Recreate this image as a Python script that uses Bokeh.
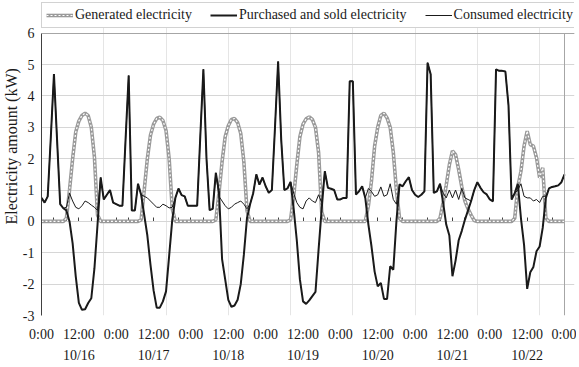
from bokeh.plotting import figure
from bokeh.models import (ColumnDataSource, FixedTicker, Range1d, LinearAxis,
                          Legend, LegendItem, Grid, Title)
from bokeh.embed import file_html
from bokeh.resources import INLINE

# ---------------- data (hourly, 10/16 0:00 .. 10/23 0:00) ----------------
gen_d1 = [0, 0, 0, 0, 0, 0, 0, 0, 0.1, 1.0, 2.0, 2.85, 3.2, 3.38, 3.45, 3.37, 3.0, 2.05, 0.2, 0, 0, 0, 0, 0]
gen_d2 = [0, 0, 0, 0, 0, 0, 0, 0, 0.05, 1.0, 2.0, 2.75, 3.1, 3.28, 3.32, 3.22, 2.9, 2.0, 0.4, 0, 0, 0, 0, 0]
gen_d3 = [0, 0, 0, 0, 0, 0, 0, 0, 0.05, 0.9, 1.9, 2.7, 3.05, 3.25, 3.28, 3.15, 2.8, 1.9, 0.35, 0, 0, 0, 0, 0]
gen_d4 = [0, 0, 0, 0, 0, 0, 0, 0, 0.05, 0.8, 1.8, 2.7, 3.1, 3.27, 3.33, 3.25, 3.0, 2.2, 0.3, 0, 0, 0, 0, 0]
gen_d5 = [0, 0, 0, 0, 0, 0, 0, 0, 0, 0.5, 1.3, 2.4, 3.0, 3.38, 3.45, 3.3, 3.0, 2.2, 1.0, 0.1, 0, 0, 0, 0]
gen_d6 = [0, 0, 0, 0, 0, 0, 0, 0, 0.1, 0.6, 1.15, 1.8, 2.25, 2.13, 1.65, 1.1, 0.65, 0.4, 0.2, 0.03, 0, 0, 0, 0]
gen_d7 = [0, 0, 0, 0, 0, 0, 0, 0, 0.1, 1.1, 1.6, 2.4, 2.88, 2.45, 2.4, 2.03, 1.39, 1.71, 0.1, 0, 0, 0, 0, 0]
gen_end = [0]

pur_d1 = [0.75, 0.6, 0.8, 2.7, 4.7, 2.6, 0.55, 0.42, 0.35, 0.0, -0.7, -1.75, -2.6, -2.82, -2.8, -2.6, -2.45, -1.5, -0.1, 1.4, 0.7, 0.85, 1.0, 0.6]
pur_d2 = [0.55, 0.5, 0.5, 2.6, 4.65, 0.35, 0.35, 1.2, 0.85, 0.2, -0.45, -1.38, -2.2, -2.75, -2.75, -2.55, -2.23, -1.1, 0.05, 0.75, 1.05, 0.84, 0.8, 0.5]
pur_d3 = [0.5, 0.5, 0.5, 2.7, 4.85, 2.0, 0.36, 0.4, 1.55, 0.95, -1.2, -1.85, -2.5, -2.72, -2.68, -2.5, -2.0, -1.06, 0.1, 0.55, 0.9, 1.5, 1.17, 1.4]
pur_d4 = [1.12, 0.91, 1.0, 3.0, 5.1, 2.6, 1.0, 1.05, 1.26, 0.4, -0.6, -1.85, -2.55, -2.63, -2.52, -2.38, -2.25, -0.9, 0.4, 1.6, 1.07, 1.04, 1.0, 0.7]
pur_d5 = [0.7, 0.75, 0.75, 4.47, 4.47, 0.86, 0.96, 1.12, 0.75, -0.1, -0.8, -1.6, -2.07, -1.96, -2.47, -2.47, -1.43, -1.54, 0.0, 1.18, 1.12, 1.28, 1.41, 1.0]
pur_d6 = [0.85, 0.78, 0.85, 0.96, 5.06, 4.69, 0.91, 0.96, 1.2, 0.6, -0.1, -0.45, -1.75, -1.25, -0.6, -0.3, 0.05, 0.35, 0.65, 1.0, 1.25, 1.07, 0.93, 0.86]
pur_d7 = [0.7, 0.64, 4.85, 4.8, 4.8, 4.78, 3.7, 0.7, 0.9, 1.2, 0.1, -0.75, -2.15, -1.62, -1.45, -0.95, -0.8, -0.2, 0.75, 1.05, 1.1, 1.12, 1.15, 1.25]
pur_end = [1.5]

con_d1 = [0.75, 0.6, 0.8, 2.7, 4.7, 2.6, 0.55, 0.42, 0.45, 0.9, 0.65, 0.45, 0.4, 0.5, 0.65, 0.6, 0.52, 0.45, 0.35, 1.4, 0.7, 0.85, 1.0, 0.6]
con_d2 = [0.55, 0.5, 0.5, 2.6, 4.65, 0.35, 0.35, 1.2, 0.85, 0.8, 0.75, 0.65, 0.55, 0.45, 0.45, 0.55, 0.5, 0.43, 0.45, 0.75, 1.05, 0.84, 0.8, 0.5]
con_d3 = [0.5, 0.5, 0.5, 2.7, 4.85, 2.0, 0.36, 0.4, 1.55, 0.8, 0.65, 0.5, 0.4, 0.45, 0.55, 0.6, 0.65, 0.55, 0.4, 0.55, 0.9, 1.5, 1.17, 1.4]
con_d4 = [1.12, 0.91, 1.0, 3.0, 5.1, 2.6, 1.0, 1.05, 1.26, 0.9, 0.6, 0.45, 0.4, 0.65, 0.75, 0.65, 0.6, 0.85, 0.6, 1.6, 1.07, 1.04, 1.0, 0.7]
con_d5 = [0.7, 0.75, 0.75, 4.47, 4.47, 0.86, 0.96, 1.12, 0.75, 1.05, 0.95, 0.8, 0.85, 1.1, 0.8, 0.85, 1.2, 0.7, 0.55, 1.18, 1.12, 1.28, 1.41, 1.0]
con_d6 = [0.85, 0.78, 0.85, 0.96, 5.06, 4.69, 0.91, 0.96, 1.2, 0.9, 0.75, 1.0, 0.75, 1.0, 0.7, 1.05, 0.75, 0.7, 0.65, 1.0, 1.25, 1.07, 0.93, 0.86]
con_d7 = [0.7, 0.64, 4.85, 4.8, 4.8, 4.78, 3.7, 0.7, 0.9, 1.0, 1.2, 0.8, 0.75, 0.75, 0.65, 0.7, 0.6, 0.8, 0.8, 1.05, 1.1, 1.12, 1.15, 1.25]
con_end = [1.5]

time_ticks = [0, 12, 24, 36, 48, 60, 72, 84, 96, 108, 120, 132, 144, 156, 168]
time_labels = ["0:00", "12:00", "0:00", "12:00", "0:00", "12:00", "0:00", "12:00",
               "0:00", "12:00", "0:00", "12:00", "0:00", "12:00", "0:00"]
date_ticks = [12, 36, 60, 84, 108, 132, 156]
date_labels = ["10/16", "10/17", "10/18", "10/19", "10/20", "10/21", "10/22"]
y_ticks = [-3, -2, -1, 0, 1, 2, 3, 4, 5, 6]
zero_ticks = list(range(0, 169, 4))

X_START, X_END = 0, 168      # plot area of the data (hours)
Y_MIN, Y_MAX = -3, 6         # value axis

generated = gen_d1 + gen_d2 + gen_d3 + gen_d4 + gen_d5 + gen_d6 + gen_d7 + gen_end
purchased = pur_d1 + pur_d2 + pur_d3 + pur_d4 + pur_d5 + pur_d6 + pur_d7 + pur_end
consumed = con_d1 + con_d2 + con_d3 + con_d4 + con_d5 + con_d6 + con_d7 + con_end
hours = list(range(len(generated)))

src = ColumnDataSource(dict(h=hours, gen=generated, pur=purchased, con=consumed))

SERIF = "Liberation Serif"
INK = "#1a1a1a"
FRAME = "#a6a6a6"

# the frame is a little larger than the value area so that the legend
# (which sits above the plot area in the reference) lies inside it
p = figure(width=576, height=365,
           min_border_left=38, min_border_right=2, min_border_top=2, min_border_bottom=48,
           x_range=Range1d(X_START, 171.2), y_range=Range1d(Y_MIN, 6.98),
           x_axis_location=None, output_backend="svg", toolbar_location=None,
           background_fill_color="white", border_fill_color="white")
p.title_location = None
p.outline_line_color = None

# y axis
p.yaxis.ticker = FixedTicker(ticks=y_ticks)
p.yaxis.bounds = (Y_MIN, Y_MAX)
p.yaxis.major_label_overrides = {t: str(t) for t in y_ticks}
p.yaxis.major_label_text_font = SERIF
p.yaxis.major_label_text_font_size = "14px"
p.yaxis.major_label_text_color = INK
p.yaxis.major_label_standoff = 7
p.yaxis.major_tick_out = 0
p.yaxis.major_tick_in = 0
p.yaxis.minor_tick_line_color = None
p.yaxis.axis_line_color = "#404040"

# y title, starting a little above the bottom of the plot area as in the reference
p.add_layout(Title(text="Electricity amount (kW)", align="left", offset=91,
                   standoff=0, text_font=SERIF, text_font_size="16px",
                   text_font_style="normal", text_color=INK), "left")

# right edge of the plot area
right_edge = LinearAxis(fixed_location=X_END, ticker=FixedTicker(ticks=[]),
                        bounds=(Y_MIN, Y_MAX), axis_line_color=FRAME,
                        major_tick_line_color=None, minor_tick_line_color=None,
                        major_label_standoff=0)
p.add_layout(right_edge, "right")

p.ygrid.ticker = FixedTicker(ticks=y_ticks)
p.ygrid.bounds = (X_START, X_END)
p.ygrid.grid_line_color = "#d6d6d6"
edge_grid = Grid(dimension=1, ticker=FixedTicker(ticks=[Y_MIN, Y_MAX]),
                 bounds=(X_START, X_END), grid_line_color=FRAME)
p.add_layout(edge_grid)

# bottom: time-of-day labels, then date labels
time_axis = LinearAxis(ticker=FixedTicker(ticks=time_ticks),
                       major_label_overrides=dict(zip(time_ticks, time_labels)),
                       major_tick_out=0, major_tick_in=0, minor_tick_line_color=None,
                       axis_line_color=None, major_label_standoff=11,
                       major_label_text_font=SERIF, major_label_text_font_size="14px",
                       major_label_text_color=INK)
date_axis = LinearAxis(ticker=FixedTicker(ticks=date_ticks),
                       major_label_overrides=dict(zip(date_ticks, date_labels)),
                       major_tick_out=0, major_tick_in=0, minor_tick_line_color=None,
                       axis_line_color=None, major_label_standoff=3,
                       major_label_text_font=SERIF, major_label_text_font_size="14px",
                       major_label_text_color=INK)
p.add_layout(time_axis, "below")
p.add_layout(date_axis, "below")

# zero line axis with small ticks every 4 hours
zero_axis = LinearAxis(fixed_location=0, ticker=FixedTicker(ticks=zero_ticks),
                       bounds=(X_START, X_END),
                       major_tick_in=4, major_tick_out=0,
                       minor_tick_line_color=None,
                       axis_line_color="#404040", major_tick_line_color="#404040",
                       major_label_overrides={t: "" for t in zero_ticks},
                       major_label_standoff=0, major_label_text_font_size="1px")
zero_axis.level = "underlay"
p.add_layout(zero_axis, "below")

# series
gen_base = p.line("h", "gen", source=src, line_color="#9a9a9a", line_width=3.6)
gen_dots = p.line("h", "gen", source=src, line_color="white", line_width=1.2, line_dash="2 2")
pur_r = p.line("h", "pur", source=src, line_color=INK, line_width=2)
con_r = p.line("h", "con", source=src, line_color=INK, line_width=1)

legend = Legend(items=[
    LegendItem(label="Generated electricity", renderers=[gen_base, gen_dots]),
    LegendItem(label="Purchased and sold electricity", renderers=[pur_r]),
    LegendItem(label="Consumed electricity", renderers=[con_r]),
], orientation="horizontal", location="top_left", margin=0,
    glyph_width=27, glyph_height=14, label_height=14, label_standoff=2,
    spacing=18, padding=4,
    label_text_font=SERIF, label_text_font_size="14px", label_text_color=INK,
    border_line_color=FRAME, background_fill_color="white", background_fill_alpha=1)
p.add_layout(legend)

open("out.html", "w").write(file_html(p, INLINE))
